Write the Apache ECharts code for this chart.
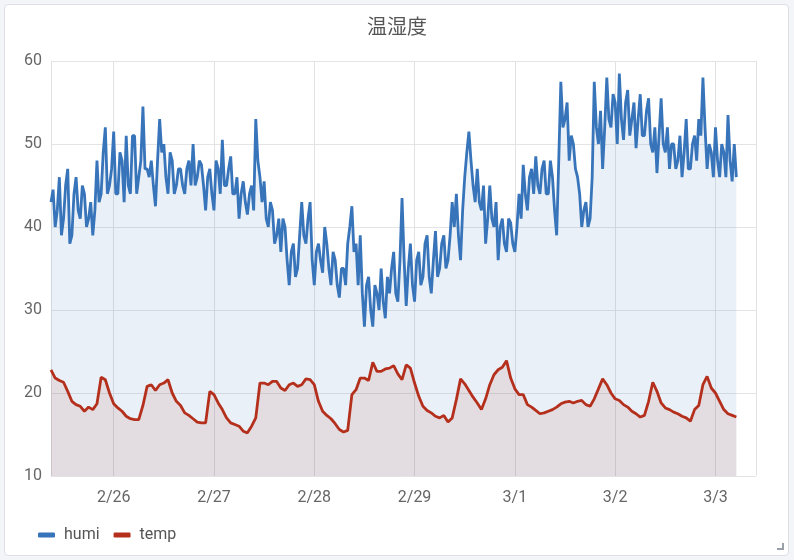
<!DOCTYPE html>
<html>
<head>
  <meta charset="UTF-8">
  <title>温湿度</title>
  <script src="https://cdn.jsdelivr.net/npm/echarts@6.0.0/dist/echarts.min.js"></script>
  <style>
    html, body { margin: 0; padding: 0; background: #f4f5f8; }
    #card { position: absolute; left: 4px; top: 4px; width: 783px; height: 550px;
            background: #fff; border: 1px solid #dcdfe5; border-radius: 4px; }
    #grip { position: absolute; left: 777px; top: 543px; width: 5px; height: 5px;
            border-right: 2px solid #9aa0a8; border-bottom: 2px solid #9aa0a8; }
    #chart { position: absolute; left: 0; top: 0; width: 794px; height: 560px; }
  </style>
</head>
<body>
  <div id="card"></div>
  <div id="grip"></div>
  <div id="chart"></div>
  <script>
// 数据: 2/25 09:00 開始, humi は 30 分ごと, temp は 1 時間ごと
const startTime = new Date(2024, 1, 25, 9, 0).getTime()
const axisMin = new Date(2024, 1, 25, 9, 0).getTime()
const axisMax = new Date(2024, 2, 3, 9, 42).getTime()
const HUMI_STEP = 1800 * 1000
const TEMP_STEP = 3600 * 1000

const humi = [
  43, 44.5, 40, 42, 46, 39, 41, 45, 47, 38,
  39, 44, 46, 42, 41, 45, 44, 40, 41, 43,
  39, 42, 48, 43, 44, 49, 52, 44, 45, 47,
  51.5, 44, 44, 49, 48, 43, 51, 45, 44, 51,
  51, 44, 46, 48, 54.5, 47, 47, 46, 48, 45,
  42.5, 48, 53, 49, 50, 46, 44, 49, 48, 44,
  45, 47, 47, 45, 44, 47, 48, 45, 50, 45,
  46, 48, 47.5, 45, 42, 46, 47, 44, 42, 48,
  47, 44, 50.5, 45, 45, 47, 48.5, 44, 44, 46,
  41, 44, 45.5, 43, 41.5, 44, 45, 42, 53, 48,
  46, 43, 45.5, 41, 40, 43, 42, 38, 39, 41,
  37, 41, 40, 36, 33, 37, 38, 34, 35, 39,
  43, 39, 38, 41, 43, 36, 33, 37, 38, 36,
  34.5, 40, 38, 35, 33, 37, 36, 33, 31.5, 35,
  35, 33, 38, 40, 42.5, 37, 38, 33, 39, 32,
  28, 33, 34, 30, 28, 33, 32, 30, 35, 31,
  29, 34, 32, 35, 37, 32, 31, 36, 43.5, 36,
  30.5, 35, 38, 33, 31, 36, 37, 33, 34, 38,
  39, 34, 32, 36, 39.5, 34, 35, 38, 39, 35,
  36, 39, 43, 40, 44, 39, 36, 42, 46, 49,
  51.5, 48, 45, 43, 47, 43, 42, 45, 38, 41,
  45, 41, 40, 43, 36, 40, 41, 38, 37, 41,
  40.5, 38, 37, 40, 44, 41, 47.5, 44, 42, 46,
  47, 44, 48.5, 45, 44, 47, 48, 44, 44, 48,
  46, 42, 39, 48, 57.5, 52, 53, 55, 48, 51,
  50, 47, 46, 44, 40, 42, 43, 40, 41, 46,
  57.5, 52, 50, 54, 47, 52, 58, 53, 52, 56,
  55, 50, 58.5, 53, 50.5, 55, 56.5, 51, 53, 55,
  49.5, 53, 56, 51, 51, 54, 55.5, 50, 49, 52,
  46.5, 51, 55.5, 50, 49, 52, 47, 50, 50, 47,
  48, 51, 46, 49, 53, 47, 47, 50, 51, 48,
  53, 51, 58, 52, 47, 50, 49, 46, 52, 48,
  46, 50, 49, 46, 53.5, 48, 45.5, 50, 46
]

const temp = [
  22.8, 21.8, 21.5, 21.3, 20.2, 19.0, 18.6, 18.4, 17.8, 18.3,
  18.0, 18.7, 21.9, 21.6, 20.0, 18.7, 18.2, 17.8, 17.2, 16.9,
  16.8, 16.8, 18.5, 20.8, 21.0, 20.3, 21.0, 21.2, 21.6, 20.0,
  19.0, 18.5, 17.6, 17.3, 16.9, 16.5, 16.4, 16.4, 20.2, 19.8,
  18.8, 18.0, 17.0, 16.4, 16.2, 16.0, 15.4, 15.2, 16.0, 17.0,
  21.2, 21.2, 21.0, 21.4, 21.4, 20.6, 20.3, 21.0, 21.2, 20.8,
  21.0, 21.7, 21.6, 21.0, 19.0, 17.8, 17.3, 16.9, 16.3, 15.6,
  15.3, 15.5, 19.8, 20.4, 21.8, 21.8, 21.5, 23.7, 22.6, 22.6,
  22.9, 23.0, 23.3, 22.3, 21.6, 23.4, 23.0, 21.2, 19.6, 18.4,
  17.9, 17.6, 17.2, 17.0, 17.3, 16.5, 17.0, 19.2, 21.7, 21.1,
  20.3, 19.5, 18.8, 18.0, 19.3, 21.0, 22.2, 22.8, 23.1, 23.9,
  21.8, 20.5, 19.8, 19.8, 18.6, 18.3, 17.9, 17.5, 17.6, 17.8,
  18.0, 18.3, 18.7, 18.9, 19.0, 18.8, 19.0, 19.1, 18.6, 18.4,
  19.3, 20.5, 21.7, 21.0, 20.0, 19.3, 19.1, 18.6, 18.3, 17.8,
  17.5, 17.1, 17.3, 19.0, 21.3, 20.2, 18.8, 18.2, 18.0, 17.7,
  17.5, 17.2, 17.0, 16.6, 18.0, 18.5, 21.0, 22.0, 20.6, 20.0,
  19.0, 18.0, 17.5, 17.3, 17.1
]

const toPairs = (arr, step) => arr.map((v, i) => [startTime + i * step, v])

const font = 'Roboto, "Noto Sans CJK JP", "Noto Sans CJK SC", sans-serif'
const chart = echarts.init(document.getElementById('chart'))
chart.setOption({
  animation: false,
  textStyle: { fontFamily: font },
  title: {
    text: '温湿度',
    left: 'center',
    top: 14,
    textStyle: { fontSize: 20, fontWeight: 'normal', color: '#555', fontFamily: font }
  },
  legend: {
    left: 33,
    top: 522,
    icon: 'roundRect',
    itemWidth: 17,
    itemHeight: 5,
    itemGap: 14,
    textStyle: { fontSize: 16, color: '#555', fontFamily: font, padding: [0, 0, 0, 4] },
    data: ['humi', 'temp']
  },
  grid: { left: 51, right: 38, top: 61, bottom: 84, containLabel: false },
  xAxis: {
    type: 'time',
    min: axisMin,
    max: axisMax,
    splitNumber: 7,
    axisLine: { show: false },
    axisTick: { show: false },
    axisLabel: {
      color: '#666',
      fontSize: 16,
      margin: 14,
      formatter: val => {
        const d = new Date(val)
        return (d.getMonth() + 1) + '/' + d.getDate()
      }
    },
    splitLine: { show: true, lineStyle: { color: '#e2e2e4' } }
  },
  yAxis: {
    type: 'value',
    min: 10,
    max: 60,
    interval: 10,
    axisLabel: { color: '#666', fontSize: 16, margin: 9 },
    splitLine: { lineStyle: { color: '#e4e4e6' } }
  },
  series: [
    {
      name: 'humi',
      type: 'line',
      showSymbol: false,
      data: toPairs(humi, HUMI_STEP),
      color: '#3874ba',
      lineStyle: { width: 2.8, color: '#3874ba' },
      areaStyle: { color: '#3874ba', opacity: 0.11 }
    },
    {
      name: 'temp',
      type: 'line',
      showSymbol: false,
      data: toPairs(temp, TEMP_STEP),
      color: '#b5301c',
      lineStyle: { width: 2.8, color: '#b5301c' },
      areaStyle: { color: '#b5301c', opacity: 0.1 }
    }
  ]
})
  </script>
</body>
</html>
